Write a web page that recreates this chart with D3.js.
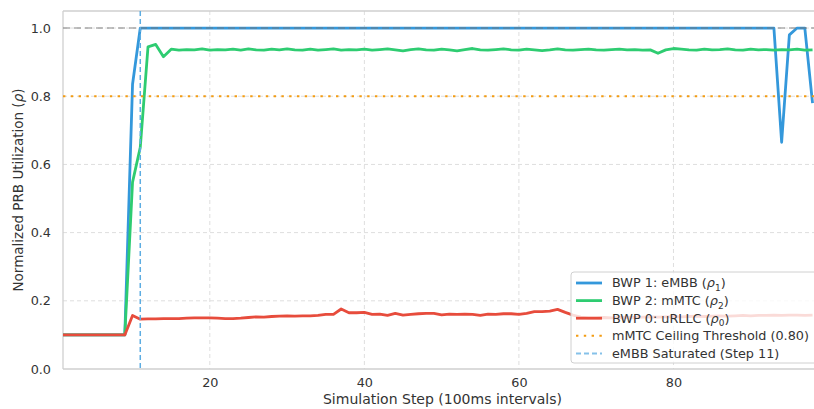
<!DOCTYPE html>
<html>
<head>
<meta charset="utf-8">
<script src="https://cdn.jsdelivr.net/npm/d3@7"></script>
<style>
  body { margin: 0; background: #fff; }
  text { font-family: "DejaVu Sans", sans-serif; fill: #333; }
</style>
</head>
<body>
<script>
// simulation steps 1..98
const steps = d3.range(1, 99)

const embb = [
  0.1, 0.1, 0.1, 0.1, 0.1, 0.1, 0.1, 0.1, 0.1, 0.835,
  1, 1, 1, 1, 1, 1, 1, 1, 1, 1,
  1, 1, 1, 1, 1, 1, 1, 1, 1, 1,
  1, 1, 1, 1, 1, 1, 1, 1, 1, 1,
  1, 1, 1, 1, 1, 1, 1, 1, 1, 1,
  1, 1, 1, 1, 1, 1, 1, 1, 1, 1,
  1, 1, 1, 1, 1, 1, 1, 1, 1, 1,
  1, 1, 1, 1, 1, 1, 1, 1, 1, 1,
  1, 1, 1, 1, 1, 1, 1, 1, 1, 1,
  1, 1, 1, 0.665, 0.98, 1, 1, 0.78
]

const mmtc = [
  0.1, 0.1, 0.1, 0.1, 0.1, 0.1, 0.1, 0.1, 0.1, 0.548,
  0.65, 0.945, 0.952, 0.916, 0.938, 0.935, 0.937, 0.936, 0.939, 0.935,
  0.937, 0.936, 0.938, 0.935, 0.939, 0.936, 0.935, 0.938, 0.936, 0.939,
  0.936, 0.935, 0.938, 0.935, 0.937, 0.939, 0.935, 0.937, 0.936, 0.938,
  0.935, 0.937, 0.939, 0.936, 0.933, 0.937, 0.939, 0.936, 0.935, 0.938,
  0.936, 0.933, 0.937, 0.940, 0.936, 0.935, 0.937, 0.939, 0.936, 0.935,
  0.938, 0.936, 0.934, 0.936, 0.939, 0.936, 0.935, 0.937, 0.938, 0.936,
  0.935, 0.937, 0.938, 0.936, 0.937, 0.935, 0.936, 0.926, 0.936, 0.940,
  0.938, 0.936, 0.935, 0.938, 0.936, 0.937, 0.939, 0.936, 0.935, 0.938,
  0.936, 0.937, 0.935, 0.937, 0.936, 0.938, 0.935, 0.936
]

const urllc = [
  0.1, 0.1, 0.1, 0.1, 0.1, 0.1, 0.1, 0.1, 0.1, 0.157,
  0.146, 0.147, 0.147, 0.148, 0.148, 0.148, 0.149, 0.150, 0.150, 0.150,
  0.149, 0.148, 0.148, 0.149, 0.151, 0.153, 0.152, 0.154, 0.155, 0.156,
  0.155, 0.156, 0.156, 0.157, 0.160, 0.160, 0.176, 0.165, 0.165, 0.166,
  0.160, 0.161, 0.157, 0.163, 0.158, 0.160, 0.162, 0.163, 0.163, 0.159,
  0.161, 0.160, 0.161, 0.160, 0.157, 0.161, 0.160, 0.162, 0.162, 0.160,
  0.163, 0.168, 0.168, 0.170, 0.175, 0.166, 0.158, 0.152, 0.150, 0.150,
  0.151, 0.150, 0.151, 0.152, 0.151, 0.152, 0.153, 0.152, 0.153, 0.154,
  0.153, 0.154, 0.155, 0.154, 0.155, 0.156, 0.155, 0.156, 0.157, 0.156,
  0.157, 0.157, 0.158, 0.157, 0.158, 0.158, 0.157, 0.158
]

const xTicks = [20, 40, 60, 80]
const yTicks = [0.0, 0.2, 0.4, 0.6, 0.8, 1.0]
const mmtcCeiling = 0.80
const embbSatStep = 11

const series = [
  {name: "BWP 1: eMBB (", sub: "1", values: embb, color: "#3498db"},
  {name: "BWP 2: mMTC (", sub: "2", values: mmtc, color: "#2ecc71"},
  {name: "BWP 0: uRLLC (", sub: "0", values: urllc, color: "#e74c3c"}
]

width = 814
height = 409
margin = ({top: 11, right: -14, bottom: 40, left: 63})

x = d3.scaleLinear()
  .domain([1, 100])
  .range([margin.left, width - margin.right])

y = d3.scaleLinear()
  .domain([0, 1.05])
  .range([height - margin.bottom, margin.top])

svg = d3.select("body").append("svg")
  .attr("width", width)
  .attr("height", height)

svg.append("defs").append("clipPath")
  .attr("id", "plot-clip")
  .append("rect")
  .attr("x", margin.left)
  .attr("y", margin.top)
  .attr("width", x(100) - margin.left)
  .attr("height", y(0) - margin.top)

// grid
svg.append("g")
  .attr("class", "grid")
  .selectAll("line")
  .data(xTicks)
  .join("line")
  .attr("x1", d => x(d)).attr("x2", d => x(d))
  .attr("y1", margin.top).attr("y2", y(0))
  .attr("stroke", "#dedede")
  .attr("stroke-width", 1)
  .attr("stroke-dasharray", "4,3")

svg.append("g")
  .attr("class", "grid")
  .selectAll("line")
  .data(yTicks.filter(d => d > 0))
  .join("line")
  .attr("x1", margin.left).attr("x2", width)
  .attr("y1", d => y(d)).attr("y2", d => y(d))
  .attr("stroke", "#dedede")
  .attr("stroke-width", 1)
  .attr("stroke-dasharray", "4,3")

// axes (no tick marks, just labels)
xAxis = g => g
  .attr("transform", `translate(0,${y(0)})`)
  .call(d3.axisBottom(x).tickValues(xTicks).tickSize(0).tickPadding(9).tickFormat(d3.format("d")))
  .call(g => g.select(".domain").remove())

yAxis = g => g
  .attr("transform", `translate(${margin.left},0)`)
  .call(d3.axisLeft(y).tickValues(yTicks).tickSize(0).tickPadding(12).tickFormat(d3.format(".1f")))
  .call(g => g.select(".domain").remove())

svg.append("g").attr("class", "x-axis").call(xAxis)
  .selectAll("text").attr("font-size", 12.8).attr("fill", "#333").style("font-family", "DejaVu Sans")
svg.append("g").attr("class", "y-axis").call(yAxis)
  .selectAll("text").attr("font-size", 12.8).attr("fill", "#333").style("font-family", "DejaVu Sans")

// spines
spine = svg.append("g").attr("stroke", "#cfcfcf").attr("stroke-width", 1.3)
spine.append("line").attr("x1", margin.left).attr("x2", margin.left).attr("y1", margin.top).attr("y2", y(0))
spine.append("line").attr("x1", margin.left).attr("x2", width).attr("y1", y(0)).attr("y2", y(0))
spine.append("line").attr("x1", margin.left).attr("x2", width).attr("y1", margin.top).attr("y2", margin.top)

// data lines
line = d3.line()
  .x((d, i) => x(steps[i]))
  .y(d => y(d))

plot = svg.append("g").attr("clip-path", "url(#plot-clip)")

plot.selectAll(".series")
  .data(series)
  .join("path")
  .attr("class", "series")
  .attr("d", d => line(d.values))
  .attr("fill", "none")
  .attr("stroke", d => d.color)
  .attr("stroke-width", 2.8)
  .attr("stroke-linejoin", "round")

// reference lines
plot.append("line")
  .attr("x1", margin.left).attr("x2", width)
  .attr("y1", y(1.0)).attr("y2", y(1.0))
  .attr("stroke", "#777")
  .attr("stroke-opacity", 0.6)
  .attr("stroke-width", 1.5)
  .attr("stroke-dasharray", "7,4")

plot.append("line")
  .attr("x1", margin.left).attr("x2", width)
  .attr("y1", y(mmtcCeiling)).attr("y2", y(mmtcCeiling))
  .attr("stroke", "#f39c12")
  .attr("stroke-width", 2)
  .attr("stroke-dasharray", "2.4,5.4")

plot.append("line")
  .attr("x1", x(embbSatStep)).attr("x2", x(embbSatStep))
  .attr("y1", margin.top).attr("y2", y(0))
  .attr("stroke", "#5dade2")
  .attr("stroke-width", 1.5)
  .attr("stroke-dasharray", "5,3")

// axis labels
svg.append("text")
  .attr("x", (margin.left + 814) / 2 + 4)
  .attr("y", 404)
  .attr("text-anchor", "middle")
  .attr("font-size", 14)
  .text("Simulation Step (100ms intervals)")

ylab = svg.append("text")
  .attr("transform", `translate(23,${(margin.top + y(0)) / 2}) rotate(-90)`)
  .attr("text-anchor", "middle")
  .attr("font-size", 13.5)
ylab.append("tspan").text("Normalized PRB Utilization (")
ylab.append("tspan").attr("font-style", "italic").text("ρ")
ylab.append("tspan").text(")")

// legend
legendItems = [
  ...series.map(s => ({label: s.name, sub: s.sub, color: s.color, dash: null, width: 2.8})),
  {label: "mMTC Ceiling Threshold (0.80)", color: "#f39c12", dash: "2.4,5.4", width: 2},
  {label: "eMBB Saturated (Step 11)", color: "#85c1e9", dash: "5,3", width: 2}
]

legend = svg.append("g").attr("class", "legend")

legend.append("rect")
  .attr("x", 571).attr("y", 272)
  .attr("width", 260).attr("height", 91)
  .attr("rx", 3)
  .attr("fill", "#fff").attr("fill-opacity", 0.8)
  .attr("stroke", "#d0d0d0")

rows = legend.selectAll(".row")
  .data(legendItems)
  .join("g")
  .attr("class", "row")
  .attr("transform", (d, i) => `translate(0,${283 + i * 17.6})`)

rows.append("line")
  .attr("x1", 576).attr("x2", 602)
  .attr("stroke", d => d.color)
  .attr("stroke-width", d => d.width)
  .attr("stroke-dasharray", d => d.dash)

rows.each(function(d) {
  const t = d3.select(this).append("text")
    .attr("x", 612).attr("dy", "0.35em")
    .attr("font-size", 12.8)
  t.append("tspan").text(d.label)
  if (d.sub) {
    t.append("tspan").attr("font-style", "italic").text("ρ")
    t.append("tspan").attr("font-size", 9).attr("dy", 3.5).text(d.sub)
    t.append("tspan").attr("dy", -3.5).text(")")
  }
})
</script>
</body>
</html>
